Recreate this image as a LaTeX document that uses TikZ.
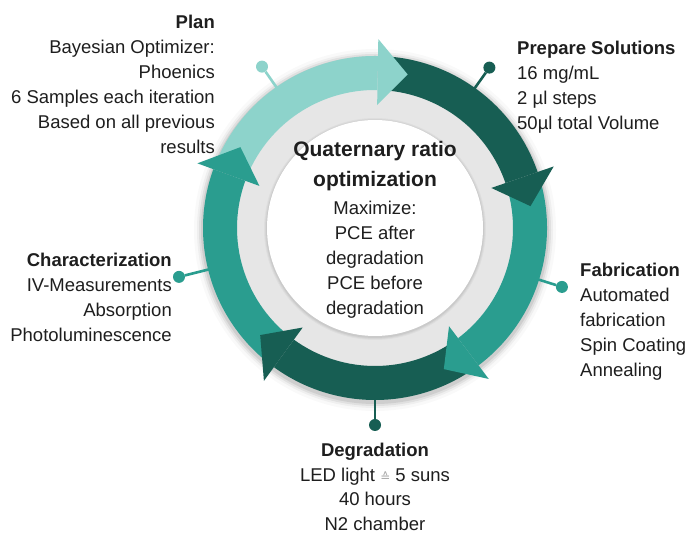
\documentclass[tikz,border=0pt]{standalone}
\usepackage{fontspec}
\setmainfont{Liberation Sans}
\newfontfamily\symfont{DejaVu Sans}

\definecolor{cyclelight}{HTML}{8DD3CB}
\definecolor{cycledark}{HTML}{175E53}
\definecolor{cycleteal}{HTML}{2A9D8F}
\definecolor{ringgray}{HTML}{E6E6E6}
\definecolor{ink}{HTML}{1E1E1E}
\definecolor{symgray}{HTML}{A8A8A8}

% ring band between radii 138 and 172, from angle #2 to #3
\newcommand\cycleband[3]{%
  \fill[#1] (#2:172) arc[start angle=#2,end angle=#3,radius=172]
    -- (#3:138) arc[start angle=#3,end angle=#2,radius=138] -- cycle;}
% triangular head with base at angle #2 and tip at angle #3
\newcommand\cyclehead[3]{%
  \fill[#1] (#2:189) -- (#3:157) -- (#2:123) -- cycle;}

\begin{document}
\begin{tikzpicture}[x=1pt,y=1pt,
  txt/.style={inner sep=0pt,text=ink,font=\fontsize{18.5}{25}\selectfont},
  title/.style={inner sep=0pt,text=ink,font=\fontsize{21}{30}\selectfont\bfseries,align=center},
  pindot/.style={circle,inner sep=0pt,minimum size=12pt},
  pinline/.style={line width=2.6pt}]
\useasboundingbox (0,0) rectangle (687,534);
\fill[white] (0,0) rectangle (687,534);
\coordinate (c) at (375,306);

% soft shadow under the cycle
\foreach \r/\o in {181/0.025,178/0.04,176/0.06,174/0.08}
  \fill[black,opacity=\o] ([yshift=-2pt]c) circle[radius=\r];
% grey ring and white centre disc
\fill[ringgray] (c) circle[radius=150];
\foreach \r/\o in {111/0.03,110/0.04,109/0.05}
  \fill[black,opacity=\o] ([yshift=-1pt]c) circle[radius=\r];
\fill[white] (c) circle[radius=108];

\begin{scope}[shift={(c)}]
  % arc bands of the five steps
  \cycleband{cyclelight}{155}{89}
  \cycleband{cycledark}{84}{19}
  \cycleband{cycleteal}{14}{-53}
  \cycleband{cycledark}{-58}{-126}
  \cycleband{cycleteal}{-131}{-200}
  % arrow heads
  \cyclehead{cyclelight}{89}{78}
  \cyclehead{cycledark}{19}{8}
  \cyclehead{cycleteal}{-53}{-64}
  \cyclehead{cycledark}{-126}{-137}
  \cyclehead{cycleteal}{-200}{-211}

  % pins leading to the step descriptions
  \coordinate (rPlan) at (125:171);
  \node[pindot,fill=cyclelight] (pPlan) at (125:197) {};
  \coordinate (rPrep) at (54.5:171);
  \node[pindot,fill=cycledark] (pPrep) at (54.5:197) {};
  \coordinate (rFab) at (-17.5:171);
  \node[pindot,fill=cycleteal] (pFab) at (-17.5:196) {};
  \coordinate (rDeg) at (-90:171);
  \node[pindot,fill=cycledark] (pDeg) at (-90:197) {};
  \coordinate (rChar) at (194:171);
  \node[pindot,fill=cycleteal] (pChar) at (194:202) {};
\end{scope}
\draw[pinline,cyclelight] (rPlan) -- (pPlan);
\draw[pinline,cycledark] (rPrep) -- (pPrep);
\draw[pinline,cycleteal] (rFab) -- (pFab);
\draw[pinline,cycledark] (rDeg) -- (pDeg);
\draw[pinline,cycleteal] (rChar) -- (pChar);

% centre text
\node[title,anchor=north] (goal) at (375,393) {Quaternary ratio\\optimization};
\node[txt,align=center,anchor=north] (target) at (375,333)
  {Maximize:\\PCE after\\degradation\\PCE before\\degradation};

% step descriptions
\node[txt,align=right,anchor=north east] (plan) at (215,519)
  {\textbf{Plan}\\Bayesian Optimizer:\\Phoenics\\6 Samples each iteration\\Based on all previous\\results};
\node[txt,align=left,anchor=north west] (prep) at (517,493)
  {\textbf{Prepare Solutions}\\16 mg/mL\\2 µl steps\\50µl total Volume};
\node[txt,align=left,anchor=north west] (fab) at (580,271)
  {\textbf{Fabrication}\\Automated\\fabrication\\Spin Coating\\Annealing};
\node[txt,align=right,anchor=north east] (char) at (172,281)
  {\textbf{Characterization}\\IV-Measurements\\Absorption\\Photoluminescence};
\node[txt,align=center,anchor=north,font=\fontsize{18.5}{24.5}\selectfont] (deg) at (375,91)
  {\textbf{Degradation}\\LED light {\symfont\fontsize{12}{12}\selectfont\color{symgray}≙} 5 suns\\40 hours\\N2 chamber};
\end{tikzpicture}
\end{document}
